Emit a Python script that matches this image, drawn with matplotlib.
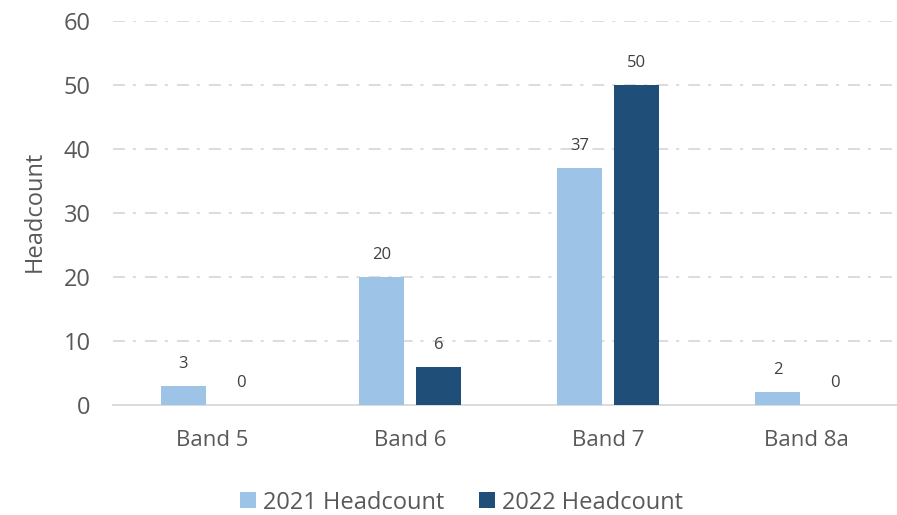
import matplotlib.pyplot as plt
import numpy as np

plt.rcParams['font.family'] = ['Open Sans', 'DejaVu Sans']

bands = ['Band 5', 'Band 6', 'Band 7', 'Band 8a']
hc_2021 = [3, 20, 37, 2]
hc_2022 = [0, 6, 50, 0]

light = '#9DC3E6'
dark = '#1F4E79'
grey = '#595959'

fig = plt.figure(figsize=(8.97, 5.15), dpi=100)
ax = fig.add_axes([0.126, 0.2136, 0.883, 0.745])

x = np.arange(len(bands))
w = 0.226
gap = 0.063
b1 = ax.bar(x - (w + gap) / 2, hc_2021, w, color=light, label='2021 Headcount', zorder=3)
b2 = ax.bar(x + (w + gap) / 2, hc_2022, w, color=dark, label='2022 Headcount', zorder=3)

for bars, vals in ((b1, hc_2021), (b2, hc_2022)):
    for r, v in zip(bars, vals):
        ax.annotate(str(v), (r.get_x() + r.get_width() / 2, v), xytext=(0, 13),
                    textcoords='offset points', ha='center', va='baseline',
                    fontsize=12, color='#404040')

ax.set_xlim(-0.5, len(bands) - 0.5)
ax.set_ylim(0, 60)
ax.set_yticks(range(0, 61, 10))
ax.set_xticks(x)
ax.set_xticklabels(bands)
ax.tick_params(axis='both', length=0, colors=grey)
ax.tick_params(axis='y', pad=16, labelsize=17)
ax.tick_params(axis='x', pad=18, labelsize=16)

ax.yaxis.grid(True, color='#D9D9D9', linestyle=(0, (6.6, 4.4, 1.7, 5.0)), linewidth=1.3, zorder=0)
for s in ('top', 'right', 'left'):
    ax.spines[s].set_visible(False)
ax.spines['bottom'].set_color('#D9D9D9')
ax.spines['bottom'].set_linewidth(1.3)

ax.set_ylabel('Headcount', fontsize=17, color=grey)
ax.yaxis.set_label_coords(-0.084, 0.505)

fig.legend(handles=[b1, b2], loc='center', bbox_to_anchor=(0.5145, 0.024), ncol=2,
           frameon=False, fontsize=17, labelcolor=grey, handlelength=0.68,
           handleheight=0.68, handletextpad=0.3, columnspacing=1.5,
           borderpad=0, borderaxespad=0)

fig.savefig('out.png', dpi=100)
